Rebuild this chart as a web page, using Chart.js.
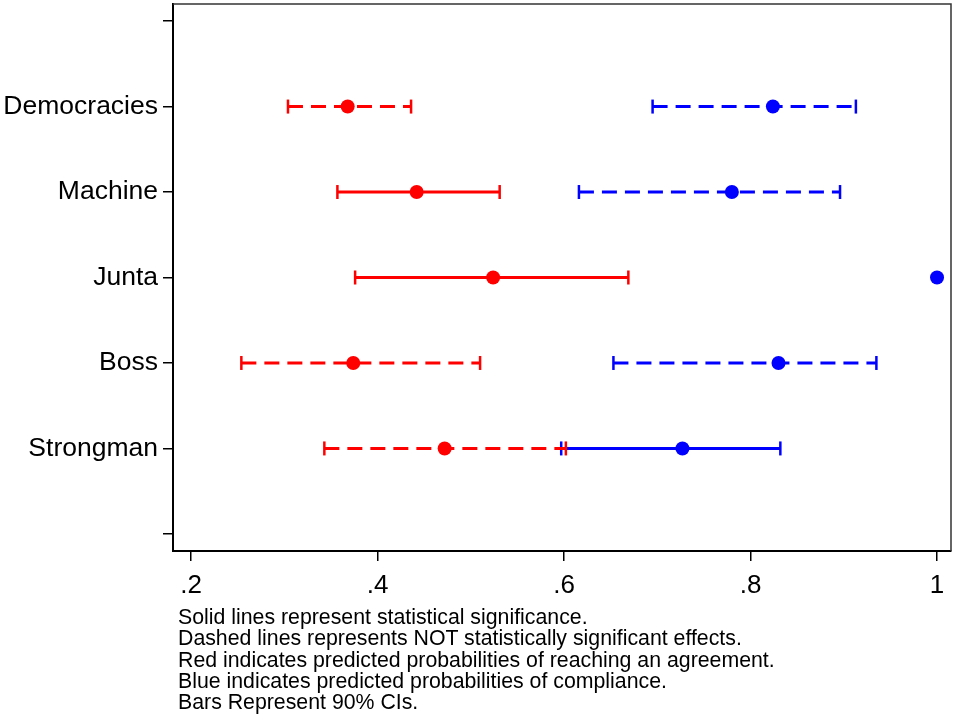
<!DOCTYPE html>
<html>
<head>
<meta charset="utf-8">
<script src="https://cdn.jsdelivr.net/npm/chart.js@4.4.1/dist/chart.umd.min.js"></script>
<style>
    body { margin: 0; background: #fff; }
    #wrap { position: relative; width: 953px; height: 715px; }
    #notes {
        position: absolute; left: 178px; top: 607px;
        font-family: "Liberation Sans", Arial, sans-serif;
        font-size: 21.3px; line-height: 21.25px; color: #000;
    }
</style>
</head>
<body>
<div id="wrap">
    <canvas id="chart" width="953" height="715"></canvas>
    <div id="notes">
        Solid lines represent statistical significance.<br>
        Dashed lines represents NOT statistically significant effects.<br>
        Red indicates predicted probabilities of reaching an agreement.<br>
        Blue indicates predicted probabilities of compliance.<br>
        Bars Represent 90% CIs.
    </div>
</div>
<script>
// Categories, top to bottom
const categories = ['Democracies', 'Machine', 'Junta', 'Boss', 'Strongman'];
const catPos = [5, 4, 3, 2, 1];

// Red: predicted probability of reaching an agreement
const redEst = [0.368, 0.442, 0.524, 0.374, 0.472];
const redLo  = [0.304, 0.357, 0.376, 0.254, 0.343];
const redHi  = [0.436, 0.531, 0.669, 0.510, 0.602];
const redSig = [false, true, true, false, false];

// Blue: predicted probability of compliance (Junta has no interval)
const blueEst = [0.824, 0.780, 1.000, 0.830, 0.727];
const blueLo  = [0.695, 0.616, null, 0.653, 0.597];
const blueHi  = [0.913, 0.896, null, 0.935, 0.832];
const blueSig = [false, false, false, false, true];

const xTicks = [0.2, 0.4, 0.6, 0.8, 1];
const yTicks = [0, 1, 2, 3, 4, 5, 6];

const RED = '#ff0000';
const BLUE = '#0000ff';
const FONT = '"Liberation Sans", Arial, sans-serif';

const datasets = [];

// points first so they sit on top
function pointSet(est, color) {
    return {
        type: 'scatter',
        data: est.map((v, i) => ({ x: v, y: catPos[i] })),
        pointRadius: 7,
        pointBackgroundColor: color,
        pointBorderWidth: 0,
        showLine: false
    };
}
datasets.push(pointSet(redEst, RED));
datasets.push(pointSet(blueEst, BLUE));

// confidence interval bars
function ciSets(lo, hi, sig, color) {
    lo.forEach((l, i) => {
        if (l === null) return;
        datasets.push({
            type: 'line',
            data: [{ x: l, y: catPos[i] }, { x: hi[i], y: catPos[i] }],
            borderColor: color,
            borderWidth: 3,
            borderDash: sig[i] ? [] : [15, 8],
            pointStyle: 'line',
            rotation: 90,
            pointRadius: 7,
            pointBorderColor: color,
            pointBorderWidth: 2.5,
            fill: false
        });
    });
}
ciSets(redLo, redHi, redSig, RED);
ciSets(blueLo, blueHi, blueSig, BLUE);

// thin frame on the top and right sides
const framePlugin = {
    id: 'frame',
    afterDraw(chart) {
        const { ctx, chartArea: a } = chart;
        ctx.save();
        ctx.strokeStyle = '#333';
        ctx.lineWidth = 1.5;
        ctx.beginPath();
        ctx.moveTo(a.left, a.top);
        ctx.lineTo(a.right, a.top);
        ctx.lineTo(a.right, a.bottom);
        ctx.stroke();
        ctx.restore();
    }
};

// no extra room for half labels at the ends
function noPad(s) {
    s.paddingTop = 0; s.paddingBottom = 0;
    s.paddingLeft = 0; s.paddingRight = 0;
}

new Chart(document.getElementById('chart'), {
    type: 'scatter',
    data: { datasets: datasets },
    options: {
        responsive: false,
        animation: false,
        layout: { autoPadding: false, padding: { top: 4, right: 2, left: 0, bottom: 0 } },
        plugins: { legend: { display: false }, tooltip: { enabled: false } },
        scales: {
            x: {
                type: 'linear',
                min: 0.1807,
                max: 1.015,
                afterBuildTicks: (s) => { s.ticks = xTicks.map(v => ({ value: v })); },
                afterFit: (s) => { s.height = 164; noPad(s); },
                border: { display: true, color: '#000', width: 2 },
                grid: { display: true, drawOnChartArea: false, drawTicks: true, tickLength: 10, color: '#000', lineWidth: 1.5 },
                ticks: {
                    padding: 9,
                    color: '#000',
                    font: { family: FONT, size: 26 },
                    maxRotation: 0,
                    callback: (v) => v === 1 ? '1' : String(Math.round(v * 10) / 10).replace(/^0/, '')
                }
            },
            y: {
                type: 'linear',
                min: -0.2,
                max: 6.2,
                afterBuildTicks: (s) => { s.ticks = yTicks.map(v => ({ value: v })); },
                afterFit: (s) => { s.width = 173; noPad(s); },
                border: { display: true, color: '#000', width: 2 },
                grid: { display: true, drawOnChartArea: false, drawTicks: true, tickLength: 10, color: '#000', lineWidth: 1.5 },
                ticks: {
                    padding: 5,
                    color: '#000',
                    font: { family: FONT, size: 26.5 },
                    callback: (v) => {
                        const i = catPos.indexOf(v);
                        return i >= 0 ? categories[i] : '';
                    }
                }
            }
        }
    },
    plugins: [framePlugin]
});
</script>
</body>
</html>
